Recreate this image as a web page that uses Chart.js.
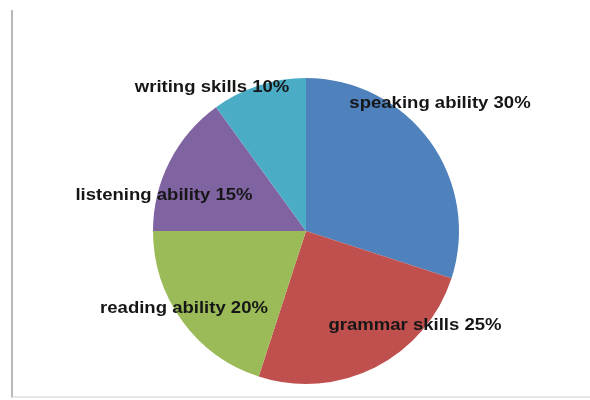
<!DOCTYPE html>
<html>
<head>
<meta charset="utf-8">
<script src="https://cdn.jsdelivr.net/npm/chart.js@4"></script>
<style>
  html, body { margin: 0; padding: 0; background: #fff; }
  #wrap { position: relative; width: 590px; height: 400px; }
  #frame { position: absolute; left: 11px; top: 10px; width: 590px; height: 386px;
           border-left: 2px solid #b9b9b9; border-bottom: 2px solid #e6e6e6; }
  canvas { position: absolute; left: 0; top: 0; }
</style>
</head>
<body>
<div id="wrap">
  <div id="frame"></div>
  <canvas id="pieChart" width="590" height="400"></canvas>
</div>
<script>
const skills = ['speaking ability', 'grammar skills', 'reading ability', 'listening ability', 'writing skills'];
const percents = [30, 25, 20, 15, 10];
const sliceColors = ['#4f81bd', '#c0504d', '#9bbb59', '#8064a2', '#4bacc6'];

// label centres, relative to the pie centre (Excel "best fit" style placement)
const labelOffsets = [[134, -128], [109, 94], [-122, 77], [-142, -36], [-94, -144]];

const pieLabels = {
    id: 'pieLabels',
    afterDatasetsDraw(chart) {
        const ctx = chart.ctx;
        const arcs = chart.getDatasetMeta(0).data;
        const stretch = 1.09; // the source text is a bit wider than Arial
        ctx.save();
        ctx.font = 'bold 17px "Liberation Sans", Arial, sans-serif';
        ctx.fillStyle = '#161616';
        ctx.textAlign = 'center';
        ctx.textBaseline = 'middle';
        arcs.forEach((arc, i) => {
            const off = labelOffsets[i];
            ctx.save();
            ctx.translate(arc.x + off[0], arc.y + off[1]);
            ctx.scale(stretch, 1);
            ctx.fillText(skills[i] + ' ' + percents[i] + '%', 0, 0);
            ctx.restore();
        });
        ctx.restore();
    }
};

new Chart(document.getElementById('pieChart').getContext('2d'), {
    type: 'pie',
    data: {
        labels: skills,
        datasets: [{
            data: percents,
            backgroundColor: sliceColors,
            borderWidth: 0
        }]
    },
    options: {
        responsive: false,
        animation: false,
        layout: {
            padding: { left: 153, right: 131, top: 78, bottom: 16 }
        },
        plugins: {
            legend: { display: false },
            tooltip: { enabled: false }
        }
    },
    plugins: [pieLabels]
});
</script>
</body>
</html>
